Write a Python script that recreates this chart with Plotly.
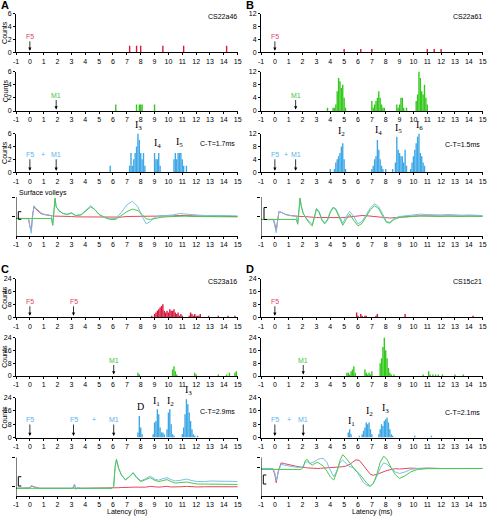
import plotly.graph_objects as go

W, H = 489, 516

# ---------------- histogram data (bin centre latency in ms, counts) ----------------
A_F5_lat = [7.2, 7.7, 8.0, 9.6, 11.1, 14.2]
A_F5_cnt = [1, 1, 1, 1, 1, 1]
A_M1_lat = [6.2, 7.7, 7.9, 8.0, 8.1, 9.0]
A_M1_cnt = [1, 1, 1, 1, 1, 1]
A_both_lat = [5.8, 7.2, 7.3, 7.4, 7.5, 7.6, 7.7, 7.8, 7.9, 8.0,
              8.1, 8.2, 8.3, 9.0, 9.1, 9.2, 9.3, 9.4,
              10.4, 10.5, 10.6, 10.7, 10.8, 10.9, 11.0, 11.1, 11.3]
A_both_cnt = [1, 1, 3, 1, 2, 3, 4, 6, 5, 3,
              2, 3, 1, 3, 2, 2, 3, 1,
              2, 3, 2, 3, 3, 3, 2, 1, 1]

B_F5_lat = [5.0, 6.2, 7.0, 11.0, 11.5, 12.0]
B_F5_cnt = [1, 1, 1, 1, 1, 1]
B_M1_lat = [3.8, 4.2, 4.3, 4.4, 4.5, 4.6, 4.7, 4.8, 4.9, 5.0, 5.1,
            7.0, 7.1, 7.2, 7.3, 7.4, 7.5, 7.6, 7.7, 7.8, 7.9,
            8.8, 8.9, 9.0, 9.1, 9.2, 9.3, 9.5,
            10.2, 10.3, 10.4, 10.5, 10.6, 10.7, 10.8, 10.9, 11.0]
B_M1_cnt = [1, 1, 1, 2, 6, 10, 9, 7, 8, 4, 1,
            3, 1, 2, 3, 4, 6, 4, 2, 1, 1,
            2, 1, 2, 4, 4, 1, 1,
            3, 5, 12, 10, 6, 5, 8, 4, 2]
B_both_lat = [4.0, 4.3, 4.4, 4.5, 4.6, 4.7, 4.8, 4.9, 5.0, 5.1,
              7.0, 7.1, 7.2, 7.3, 7.4, 7.5, 7.6, 7.7, 7.8, 8.0,
              8.5, 8.7, 8.8, 8.9, 9.0, 9.1, 9.2, 9.3, 9.4, 9.5,
              9.8, 9.9, 10.0, 10.1, 10.2, 10.3, 10.4, 10.5, 10.6, 10.7, 10.8]
B_both_cnt = [1, 1, 3, 4, 5, 6, 8, 9, 4, 1,
              1, 2, 4, 5, 10, 7, 4, 2, 1, 1,
              1, 3, 11, 7, 6, 5, 5, 3, 7, 2,
              1, 3, 5, 7, 9, 11, 12, 6, 5, 3, 2]

C_F5_lat = [8.8, 9.0, 9.1, 9.2, 9.3, 9.4, 9.5, 9.6, 9.7, 9.8,
            9.9, 10.0, 10.1, 10.2, 10.3, 10.4, 10.5, 10.6, 10.7, 10.8,
            10.9, 11.0, 11.5, 11.6, 11.7, 11.8, 11.9, 12.0, 12.1, 12.2,
            12.3, 12.9, 13.6, 14.3, 14.8]
C_F5_cnt = [1, 2, 3, 4, 5, 6, 7, 8, 4, 3,
            4, 3, 5, 4, 4, 5, 3, 2, 3, 1,
            2, 1, 1, 3, 2, 1, 2, 1, 1, 1,
            2, 1, 1, 1, 1]
C_M1_lat = [7.8, 7.9, 10.3, 10.4, 10.5, 10.6, 11.9, 12.0, 13.6, 14.2, 14.4, 14.8, 14.9]
C_M1_cnt = [2, 1, 4, 6, 3, 1, 2, 1, 1, 1, 2, 2, 3]
C_both_lat = [7.8, 7.9, 8.0, 8.1,
              8.9, 9.0, 9.1, 9.2, 9.3, 9.4, 9.5, 9.6, 9.7,
              9.9, 10.0, 10.1, 10.2, 10.3, 10.4,
              11.0, 11.1, 11.2, 11.3, 11.4, 11.5, 11.6, 11.7, 11.8, 11.9, 12.1]
C_both_cnt = [3, 13, 6, 2,
              2, 9, 10, 17, 14, 6, 3, 3, 2,
              5, 15, 17, 8, 2, 1,
              2, 6, 14, 23, 20, 15, 10, 5, 2, 1, 1]

D_F5_lat = [5.9, 6.0, 6.2, 6.3, 6.5, 6.6, 7.3, 7.4, 9.4, 14.3]
D_F5_cnt = [3, 1, 2, 1, 1, 1, 1, 2, 2, 1]
D_M1_lat = [5.2, 5.3, 5.4, 5.5, 5.6, 5.7, 5.8,
            6.5, 6.6, 6.7, 6.8, 6.9, 7.0,
            7.6, 7.7, 7.8, 7.9, 8.0, 8.1, 8.2, 8.3, 8.4,
            8.6, 10.7, 11.1, 11.2, 11.4, 11.6, 11.8, 12.1, 13.0, 13.6]
D_M1_cnt = [2, 2, 1, 3, 4, 6, 2,
            4, 2, 1, 2, 1, 3,
            8, 11, 18, 24, 16, 11, 5, 2, 1,
            1, 1, 3, 1, 1, 1, 1, 1, 1, 1]
D_both_lat = [5.3, 5.4, 5.5,
              6.1, 6.3, 6.4, 6.5, 6.6, 6.7, 6.8, 6.9, 7.0,
              7.5, 7.6, 7.7, 7.8, 7.9, 8.0, 8.1, 8.2, 8.3, 8.4, 8.5,
              10.1, 11.3]
D_both_cnt = [3, 5, 2,
              1, 2, 4, 6, 9, 8, 9, 5, 2,
              2, 5, 8, 7, 10, 11, 12, 9, 5, 2, 1,
              1, 1]

# ---------------- surface volley traces (ms, arbitrary units) ----------------
A_t = [-1.0, -0.5, -0.1, 0.0, 0.1, 0.2, 0.3, 0.4, 0.6, 0.8,
       1.0, 1.3, 1.55, 1.65, 1.75, 1.82, 1.9, 2.1, 2.4, 2.7,
       3.0, 3.3, 3.7, 4.1, 4.4, 4.7, 5.0, 5.4, 5.8, 6.2,
       6.6, 7.0, 7.4, 7.8, 8.1, 8.4, 8.7, 9.0, 9.4, 9.8,
       10.3, 10.8, 11.2, 11.7, 12.2, 12.7, 13.2, 13.7, 14.2, 15.0]
A_red = [-0.1, -0.1, -0.1, -0.5, -0.7, 0.1, 0.5, 0.4, 0.25, 0.15,
         0.1, 0.05, 0.03, 0.03, 0.02, 0.02, 0.02, 0.02, 0.0, 0.0,
         0.0, -0.02, -0.02, -0.05, -0.05, -0.05, -0.05, -0.05, -0.05, -0.03,
         -0.03, 0.0, 0.0, 0.0, 0.02, 0.03, 0.02, 0.02, 0.02, 0.02,
         0.03, 0.05, 0.05, 0.03, 0.02, 0.02, 0.0, 0.02, 0.0, 0.0]
A_grn = [-0.1, -0.1, -0.1, -0.1, -0.1, -0.1, -0.1, -0.1, -0.1, -0.1,
         -0.1, -0.1, -0.1, -0.45, 0.3, 0.95, 0.5, 0.3, 0.15, 0.1,
         0.17, 0.05, 0.08, 0.35, 0.5, 0.35, 0.1, -0.05, -0.15, -0.15,
         0.05, 0.25, 0.38, 0.3, 0.1, -0.12, -0.15, -0.1, -0.05, -0.02,
         0.0, 0.03, 0.02, 0.0, 0.0, 0.0, -0.02, 0.0, -0.02, -0.02]
A_blu = [-0.1, -0.1, -0.12, -0.5, -0.86, 0.0, 0.55, 0.45, 0.3, 0.2,
         0.12, 0.08, 0.05, -0.45, 0.3, 0.9, 0.5, 0.3, 0.15, 0.12,
         0.2, 0.05, 0.1, 0.38, 0.55, 0.35, 0.1, -0.05, -0.12, -0.1,
         0.2, 0.6, 0.78, 0.5, 0.0, -0.38, -0.25, -0.05, 0.05, 0.05,
         0.08, 0.15, 0.12, 0.08, 0.07, 0.05, 0.05, 0.07, 0.05, 0.03]

B_t = [-1.0, -0.5, -0.1, 0.0, 0.1, 0.2, 0.3, 0.5, 0.8, 1.1,
       1.4, 1.55, 1.65, 1.75, 1.82, 1.9, 2.05, 2.3, 2.5, 2.7,
       2.85, 3.0, 3.2, 3.4, 3.6, 3.8, 4.0, 4.2, 4.4, 4.65,
       4.9, 5.15, 5.4, 5.7, 6.0, 6.3, 6.6, 6.9, 7.2, 7.5,
       7.8, 8.05, 8.3, 8.6, 9.0, 9.5, 10.0, 10.5, 11.0, 11.5,
       12.0, 12.5, 13.0, 13.5, 14.0, 14.5, 15.0]
B_red = [-0.15, -0.15, -0.15, -0.4, -0.7, -0.2, 0.26, 0.2, 0.1, 0.05,
         0.02, 0.0, 0.0, 0.0, 0.0, 0.0, 0.0, -0.02, -0.03, -0.04,
         -0.05, -0.05, -0.05, -0.05, -0.06, -0.06, -0.06, -0.07, -0.08, -0.08,
         -0.06, -0.04, -0.02, 0.02, 0.04, 0.05, 0.04, 0.02, 0.0, -0.03,
         -0.06, -0.08, -0.08, -0.06, -0.03, 0.0, 0.02, 0.03, 0.03, 0.02,
         0.02, 0.03, 0.02, 0.02, 0.03, 0.02, 0.02]
B_grn = [-0.15, -0.15, -0.15, -0.15, -0.15, -0.15, -0.15, -0.15, -0.15, -0.15,
         -0.15, -0.15, -0.4, 0.4, 0.95, 0.55, 0.15, -0.15, -0.35, -0.48,
         -0.1, 0.38, 0.2, -0.2, -0.38, -0.2, 0.2, 0.45, 0.35, -0.05,
         -0.45, -0.15, 0.12, -0.2, -0.48, -0.35, 0.0, 0.35, 0.55, 0.4,
         0.0, -0.3, -0.34, -0.15, -0.05, -0.02, 0.0, 0.03, 0.02, 0.0,
         0.0, 0.02, 0.0, 0.0, 0.02, 0.0, 0.0]
B_blu = [-0.15, -0.15, -0.17, -0.5, -0.83, -0.2, 0.26, 0.2, 0.1, 0.05,
         0.02, 0.0, -0.35, 0.4, 0.9, 0.55, 0.15, -0.12, -0.3, -0.42,
         -0.05, 0.42, 0.25, -0.15, -0.32, -0.15, 0.25, 0.48, 0.4, 0.05,
         -0.35, 0.0, 0.26, 0.0, -0.38, -0.25, 0.1, 0.45, 0.65, 0.5,
         0.1, -0.25, -0.3, -0.1, 0.0, 0.05, 0.08, 0.12, 0.1, 0.08,
         0.08, 0.1, 0.08, 0.07, 0.08, 0.06, 0.05]

C_t = [-1.0, -0.5, 0.0, 0.1, 0.2, 0.4, 0.7, 1.0, 1.5, 2.0,
       2.5, 3.0, 3.15, 3.22, 3.3, 3.45, 3.7, 4.0, 4.5, 5.0,
       5.5, 5.9, 6.05, 6.15, 6.25, 6.4, 6.6, 6.9, 7.2, 7.45,
       7.7, 8.0, 8.35, 8.7, 9.0, 9.3, 9.6, 9.9, 10.2, 10.5,
       10.9, 11.3, 11.7, 12.1, 12.6, 13.1, 13.6, 14.1, 14.6, 15.0]
C_red = [-0.6, -0.6, -0.58, -0.48, -0.5, -0.56, -0.6, -0.6, -0.6, -0.6,
         -0.6, -0.6, -0.55, -0.4, -0.62, -0.58, -0.6, -0.6, -0.6, -0.6,
         -0.6, -0.6, -0.6, -0.6, -0.58, -0.57, -0.56, -0.57, -0.55, -0.54,
         -0.55, -0.56, -0.54, -0.5, -0.52, -0.54, -0.52, -0.5, -0.53, -0.54,
         -0.52, -0.5, -0.52, -0.53, -0.52, -0.52, -0.53, -0.52, -0.52, -0.52]
C_grn = [-0.6, -0.6, -0.6, -0.6, -0.6, -0.6, -0.6, -0.6, -0.6, -0.6,
         -0.6, -0.6, -0.6, -0.6, -0.6, -0.6, -0.6, -0.6, -0.6, -0.6,
         -0.6, -0.6, -0.5, 0.5, 0.9, 0.45, 0.1, -0.17, 0.0, 0.2,
         -0.05, -0.25, -0.15, -0.05, -0.18, -0.25, -0.2, -0.15, -0.25, -0.33,
         -0.3, -0.27, -0.33, -0.38, -0.38, -0.38, -0.4, -0.4, -0.4, -0.4]
C_blu = [-0.6, -0.6, -0.58, -0.45, -0.5, -0.57, -0.6, -0.6, -0.6, -0.6,
         -0.6, -0.6, -0.55, -0.38, -0.65, -0.58, -0.6, -0.6, -0.6, -0.6,
         -0.6, -0.6, -0.5, 0.5, 0.9, 0.45, 0.12, -0.15, 0.02, 0.22,
         0.0, -0.22, -0.1, 0.03, -0.12, -0.18, -0.1, -0.05, -0.15, -0.22,
         -0.18, -0.12, -0.2, -0.25, -0.25, -0.22, -0.23, -0.22, -0.24, -0.25]

D_t = [-1.0, -0.5, -0.15, 0.0, 0.1, 0.25, 0.45, 0.7, 1.0, 1.5,
       1.9, 2.05, 2.2, 2.35, 2.5, 2.7, 2.9, 3.1, 3.3, 3.5,
       3.75, 4.0, 4.25, 4.5, 4.7, 4.9, 5.1, 5.35, 5.6, 5.85,
       6.1, 6.4, 6.65, 6.9, 7.1, 7.35, 7.6, 7.85, 8.1, 8.4,
       8.7, 9.0, 9.4, 9.8, 10.3, 11.0, 12.0, 13.0, 14.0, 15.0]
D_red = [0.43, 0.43, 0.43, 0.1, -0.31, 0.3, 0.72, 0.68, 0.62, 0.55,
         0.5, 0.5, 0.48, 0.46, 0.45, 0.44, 0.43, 0.43, 0.44, 0.45,
         0.45, 0.45, 0.46, 0.48, 0.5, 0.52, 0.55, 0.62, 0.75, 0.88,
         0.85, 0.6, 0.35, 0.12, 0.08, 0.12, 0.2, 0.28, 0.33, 0.38,
         0.42, 0.4, 0.42, 0.45, 0.43, 0.45, 0.43, 0.44, 0.43, 0.43]
D_grn = [0.38, 0.38, 0.38, 0.38, 0.38, 0.38, 0.38, 0.38, 0.38, 0.38,
         0.38, 0.5, 0.85, 0.9, 0.72, 0.6, 0.7, 0.75, 0.65, 0.55,
         0.3, 0.0, -0.17, 0.3, 0.85, 1.15, 1.0, 0.75, 0.55, 0.3,
         0.15, -0.15, -0.35, -0.48, -0.35, 0.1, 0.75, 1.07, 0.9, 0.45,
         0.1, -0.09, 0.05, 0.25, 0.38, 0.42, 0.43, 0.43, 0.43, 0.43]
D_blu = [0.43, 0.43, 0.43, 0.2, -0.2, 0.25, 0.65, 0.6, 0.55, 0.5,
         0.48, 0.55, 0.75, 0.78, 0.68, 0.72, 0.8, 0.9, 0.95, 0.95,
         0.75, 0.35, 0.0, 0.35, 0.75, 0.86, 0.7, 0.55, 0.48, 0.35,
         0.05, -0.3, -0.45, -0.5, -0.35, 0.0, 0.45, 0.72, 0.65, 0.45,
         0.25, 0.17, 0.25, 0.38, 0.43, 0.43, 0.43, 0.43, 0.43, 0.43]

X_TICKS = list(range(-1, 16))

# ---------------- styling ----------------
FONT = "Liberation Sans"
SERIF = "Liberation Serif"
RED_BAR, GRN_BAR, BLU_BAR = "#d8173f", "#33c81c", "#3ea8e6"
RED_LN, GRN_LN, BLU_LN = "#e2465e", "#4cc84a", "#76bfea"
RED_TX, GRN_TX, BLU_TX = "#e0456c", "#44c63a", "#5ab4ea"

TOP_ROWS = [(13.5, 52.3), (71.5, 111.0), (133.5, 172.3), (197.0, 236.0)]
BOT_ROWS = [(278.5, 317.3), (337.5, 376.0), (397.7, 437.5), (457.5, 496.0)]
TR_TOP = 1.25

panels = [
    dict(letter="A", lx=0, ly=-1.5, x0=16, x1=237.7, rows=TOP_ROWS, ymax=6, ytk=[0, 2, 4, 6],
         hist=[(A_F5_lat, A_F5_cnt, RED_BAR), (A_M1_lat, A_M1_cnt, GRN_BAR), (A_both_lat, A_both_cnt, BLU_BAR)],
         tr=(A_t, A_red, A_grn, A_blu), mid=0.0, case="CS22a46", ct="C-T=1.7ms", cty=0.73,
         stims=[[("F5", 0.0)], [("M1", 1.9)], [("F5", 0.0), ("M1", 1.9)]], plus=0.93,
         il=[("I<sub>3</sub>", 7.85, 6.0), ("I<sub>4</sub>", 9.2, 3.2), ("I<sub>5</sub>", 10.8, 3.3)],
         counts=True, brk=(18.3, 21.3, 211.7, 219.3)),
    dict(letter="B", lx=245, ly=-1.5, x0=261, x1=482.7, rows=TOP_ROWS, ymax=12, ytk=[0, 4, 8, 12],
         hist=[(B_F5_lat, B_F5_cnt, RED_BAR), (B_M1_lat, B_M1_cnt, GRN_BAR), (B_both_lat, B_both_cnt, BLU_BAR)],
         tr=(B_t, B_red, B_grn, B_blu), mid=0.0, case="CS22a61", ct="C-T=1.5ms", cty=0.72,
         stims=[[("F5", 0.0)], [("M1", 1.5)], [("F5", 0.0), ("M1", 1.5)]], plus=0.82,
         il=[("I<sub>2</sub>", 4.83, 9.9), ("I<sub>4</sub>", 7.5, 10.3), ("I<sub>5</sub>", 8.93, 11.0),
             ("I<sub>6</sub>", 10.42, 12.0)],
         counts=False, brk=(264, 267, 207.5, 219.5)),
    dict(letter="C", lx=0, ly=261.5, x0=16, x1=237.7, rows=BOT_ROWS, ymax=24, ytk=[0, 8, 16, 24],
         hist=[(C_F5_lat, C_F5_cnt, RED_BAR), (C_M1_lat, C_M1_cnt, GRN_BAR), (C_both_lat, C_both_cnt, BLU_BAR)],
         tr=(C_t, C_red, C_grn, C_blu), mid=-0.52, case="CS23a16", ct="C-T=2.9ms", cty=0.645,
         stims=[[("F5", 0.0), ("F5", 3.15)], [("M1", 6.05)], [("F5", 0.0), ("F5", 3.15), ("M1", 6.05)]],
         plus=4.6,
         il=[("D", 8.0, 13.9), ("I<sub>1</sub>", 9.17, 16.5), ("I<sub>2</sub>", 10.18, 16.5),
             ("I<sub>3</sub>", 11.45, 23.2)],
         counts=True, brk=(18.3, 21.3, 476.7, 486)),
    dict(letter="D", lx=245, ly=261.5, x0=261, x1=482.7, rows=BOT_ROWS, ymax=24, ytk=[0, 8, 16, 24],
         hist=[(D_F5_lat, D_F5_cnt, RED_BAR), (D_M1_lat, D_M1_cnt, GRN_BAR), (D_both_lat, D_both_cnt, BLU_BAR)],
         tr=(D_t, D_red, D_grn, D_blu), mid=0.48, case="CS15c21", ct="C-T=2.1ms", cty=0.64,
         stims=[[("F5", 0.0)], [("M1", 2.05)], [("F5", 0.0), ("M1", 2.05)]], plus=1.05,
         il=[("I<sub>1</sub>", 5.5, 4.5), ("I<sub>2</sub>", 6.83, 10.3), ("I<sub>3</sub>", 8.01, 12.3)],
         counts=False, brk=(263.3, 266.3, 475, 484)),
]

fig = go.Figure()
layout = dict(template="none", width=W, height=H, margin=dict(l=0, r=0, t=0, b=0, pad=0),
              autosize=False, showlegend=False, plot_bgcolor="white", paper_bgcolor="white",
              font=dict(family=FONT, size=7, color="black"))
ann, shapes = [], []


def px(x):
    return x / W


def py(y):
    return 1 - y / H


for pi, p in enumerate(panels):
    for r in range(4):
        n = pi * 4 + r + 1
        sfx = "" if n == 1 else str(n)
        xr, yr = "x" + sfx, "y" + sfx
        top, base = p["rows"][r]
        xdom = [px(p["x0"]), px(p["x1"])]
        xax = dict(domain=xdom, range=[-1, 15], anchor=yr, tickmode="array", tickvals=X_TICKS,
                   ticktext=[str(v) for v in X_TICKS], ticks="outside", ticklen=2, tickwidth=1,
                   tickcolor="black", showline=True, linecolor="black", linewidth=1, showgrid=False,
                   zeroline=False, automargin=False, tickfont=dict(size=7, family=FONT, color="black"),
                   fixedrange=True)
        if r < 3:
            yax = dict(domain=[py(base), py(top)], range=[0, p["ymax"]], anchor=xr, tickmode="array",
                       tickvals=p["ytk"], ticks="outside", ticklen=2, tickwidth=1, tickcolor="black",
                       showline=True, linecolor="black", linewidth=1, showgrid=False, zeroline=False,
                       automargin=False, tickfont=dict(size=7, family=FONT, color="black"), fixedrange=True)
            lat, cnt, col = p["hist"][r]
            fig.add_trace(go.Bar(x=lat, y=cnt, width=0.1, marker=dict(color=col, line=dict(width=0)),
                                 xaxis=xr, yaxis=yr, hoverinfo="skip"))
            # stimulus labels and arrows
            labcol = [RED_TX, GRN_TX, BLU_TX][r]
            ay = -18 if r == 2 else -16
            for txt, xs in p["stims"][r]:
                ann.append(dict(x=xs, y=0, xref=xr, yref=yr, text=txt, showarrow=True, ax=0, ay=ay,
                                arrowhead=2, arrowsize=0.8, arrowwidth=0.8, arrowcolor="black", standoff=1.5,
                                font=dict(size=7, color=labcol, family=FONT)))
            if r == 2:
                ann.append(dict(x=p["plus"], y=0, xref=xr, yref=yr, text="+", showarrow=False,
                                xanchor="center", yanchor="middle",
                                yshift=-ay, font=dict(size=7, color=BLU_TX, family=FONT)))
                ann.append(dict(x=13.55, y=p["cty"] * p["ymax"], xref=xr, yref=yr, text=p["ct"],
                                xanchor="center", yanchor="middle",
                                showarrow=False, font=dict(size=7, family=FONT, color="black")))
                for txt, xi, yi in p["il"]:
                    ann.append(dict(x=xi, y=yi, xref=xr, yref=yr, text=txt, showarrow=False,
                                    xanchor="center", yanchor="bottom",
                                    font=dict(size=10, family=SERIF, color="black")))
            if r == 0:
                ann.append(dict(x=13.9, y=0.92 * p["ymax"], xref=xr, yref=yr, text=p["case"],
                                xanchor="center", yanchor="middle",
                                showarrow=False, font=dict(size=7, family=FONT, color="black")))
            if p["counts"]:
                ann.append(dict(x=px(5.0), y=(py(base) + py(top)) / 2, xref="paper", yref="paper",
                                xanchor="center", yanchor="middle",
                                text="Counts", textangle=-90, showarrow=False,
                                font=dict(size=7, family=FONT, color="black")))
        else:
            unit = (base - top) / 2.0
            dtop = top - (TR_TOP - 1) * unit
            yax = dict(domain=[py(base), py(dtop)], range=[-1, TR_TOP], anchor=xr, tickmode="array",
                       tickvals=[p["mid"], 1], ticks="outside", ticklen=3, tickwidth=1, tickcolor="black",
                       showticklabels=False, showline=False, showgrid=False, zeroline=False,
                       automargin=False, fixedrange=True)
            t, rd, gn, bl = p["tr"]
            for vals, col in ((rd, RED_LN), (bl, BLU_LN), (gn, GRN_LN)):
                fig.add_trace(go.Scatter(x=t, y=vals, mode="lines", line=dict(color=col, width=1),
                                         xaxis=xr, yaxis=yr, hoverinfo="skip"))
            shapes.append(dict(type="line", xref=xr, yref=yr, x0=-1, x1=-1, y0=-1, y1=1,
                               line=dict(color="black", width=1)))
            bx0, bx1, by0, by1 = p["brk"]
            shapes.append(dict(type="path", xref="paper", yref="paper",
                               path=f"M {px(bx1)},{py(by0)} L {px(bx0)},{py(by0)} L {px(bx0)},{py(by1)} L {px(bx1)},{py(by1)}",
                               line=dict(color="black", width=1)))
            if p["letter"] in ("C", "D"):
                ann.append(dict(x=(xdom[0] + xdom[1]) / 2, y=py(511.5), xref="paper", yref="paper",
                                xanchor="center", yanchor="middle",
                                text="Latency (ms)", showarrow=False,
                                font=dict(size=7, family=FONT, color="black")))
            if p["letter"] == "A":
                ann.append(dict(x=px(17), y=py(192.5), xref="paper", yref="paper", xanchor="left",
                                yanchor="middle",
                                text="Surface volleys", showarrow=False,
                                font=dict(size=7, family=FONT, color="black")))
        layout["xaxis" + sfx] = xax
        layout["yaxis" + sfx] = yax
    ann.append(dict(x=px(p["lx"]), y=py(p["ly"]), xref="paper", yref="paper", xanchor="left", yanchor="top",
                    text="<b>" + p["letter"] + "</b>", showarrow=False, borderpad=0,
                    font=dict(size=11, family=FONT, color="black")))

layout["annotations"] = ann
layout["shapes"] = shapes
fig.update_layout(**layout)
fig.write_html("out.html", config={"displayModeBar": False, "staticPlot": True},
               post_script="document.body.style.margin='0px';document.body.style.padding='0px';")
